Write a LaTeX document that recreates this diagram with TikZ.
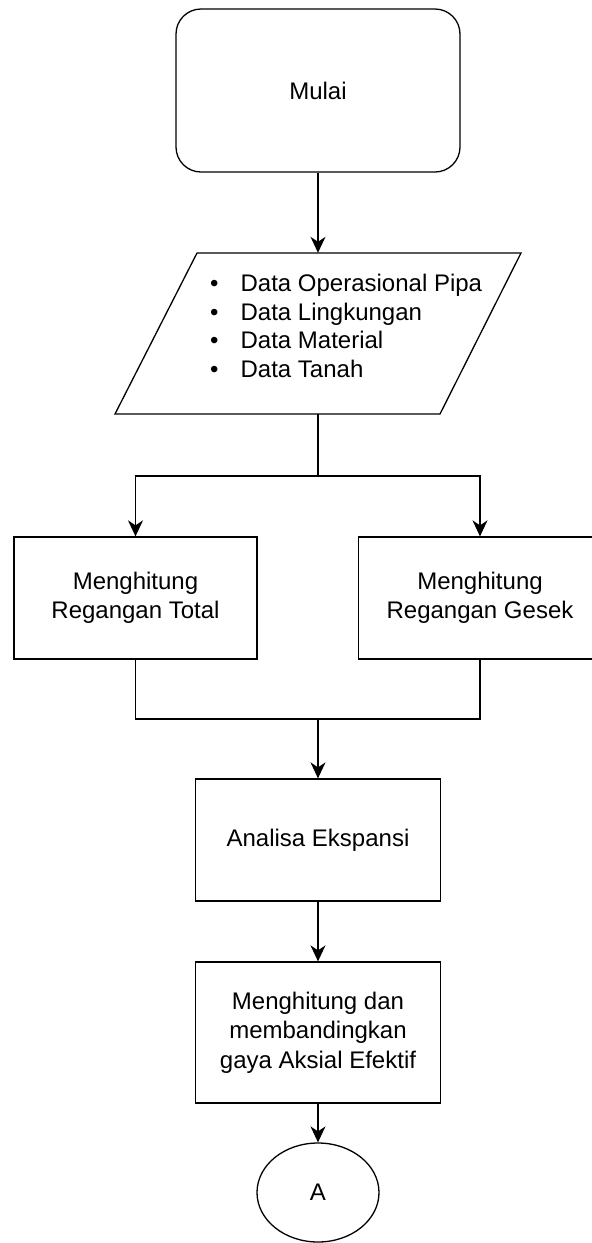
\documentclass[tikz,border=0pt]{standalone}
\usepackage{fontspec}
\setmainfont{Liberation Sans}
\usetikzlibrary{shapes.geometric,arrows.meta}
\begin{document}
\begin{tikzpicture}[x=1pt,y=-1pt,
  lbl/.style={font=\fontsize{24}{29.5}\selectfont, align=center, text=black},
  procbox/.style={draw=black, line width=1.3pt, rectangle, inner sep=0pt, lbl},
  startbox/.style={procbox, rounded corners=25pt},
  ghost/.style={inner sep=0pt, draw=none},
  conn/.style={draw=black, line width=1.3pt},
  arr/.style={conn, -{Stealth[length=16pt,width=15pt,inset=5pt]}}
]
\useasboundingbox (0,0) rectangle (592,1243);
\fill[white] (0,0) rectangle (592,1243);

% start
\node[startbox, minimum width=284pt, minimum height=163pt] (start) at (318,90.5) {Mulai};

% data parallelogram
\coordinate (p1) at (197,253);
\coordinate (p2) at (521,253);
\coordinate (p3) at (440,414);
\coordinate (p4) at (115,414);
\draw[conn, line join=miter] (p1) -- (p2) -- (p3) -- (p4) -- cycle;
\node[ghost, minimum width=324pt, minimum height=161pt] (data) at (318,333.5) {};
\node[lbl, anchor=west, inner sep=0pt, align=left] (datatext) at (210,329)
  {\fontsize{24}{28.5}\selectfont\begin{tabular}{@{}l@{\hspace{22pt}}l@{}}
   • & Data Operasional Pipa\\
   • & Data Lingkungan\\
   • & Data Material\\
   • & Data Tanah
   \end{tabular}};

% two branches
\node[procbox, minimum width=243pt, minimum height=122pt] (tot) at (135.5,598) {Menghitung\\Regangan Total};
\node[procbox, minimum width=243pt, minimum height=122pt] (ges) at (480,598) {Menghitung\\Regangan Gesek};

\node[procbox, minimum width=245pt, minimum height=122pt] (ana) at (318,840) {Analisa Ekspansi};
\node[procbox, minimum width=245pt, minimum height=141pt] (gaya) at (318,1032.5) {Menghitung dan\\membandingkan\\gaya Aksial Efektif};

\node[draw=black, line width=1.3pt, ellipse, inner sep=0pt, minimum width=122pt, minimum height=99pt, lbl] (A) at (318,1192.5) {A};

% connectors
\coordinate (split) at (318,476);
\coordinate (merge) at (318,719);
\draw[arr] (start.south) -- (data.north);
\draw[conn] (data.south) -- (split);
\draw[arr] (split) -| (tot.north);
\draw[arr] (split) -| (ges.north);
\draw[conn] (tot.south) |- (merge);
\draw[conn] (ges.south) |- (merge);
\draw[arr] (merge) -- (ana.north);
\draw[arr] (ana.south) -- (gaya.north);
\draw[arr] (gaya.south) -- (A.north);
\end{tikzpicture}
\end{document}
